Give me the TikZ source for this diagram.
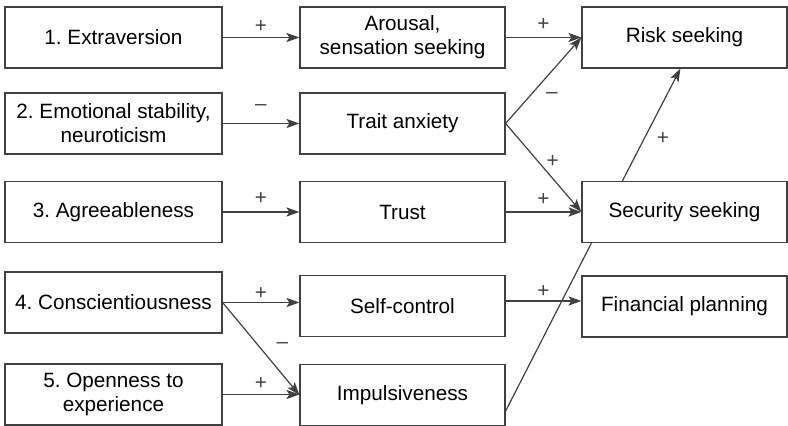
\documentclass[tikz,border=0pt]{standalone}
\usepackage{fontspec}
\setmainfont{Liberation Sans}
\frenchspacing
\usetikzlibrary{arrows.meta,calc}
\tikzset{
  box/.style={draw=black!75,line width=0.6pt,minimum height=30.5pt,inner sep=2pt,
    align=center,font=\fontsize{10.35}{12}\selectfont},
  trait/.style={box,minimum width=108.5pt},
  mid/.style={box,minimum width=102.5pt},
  outc/.style={box,minimum width=102.5pt},
  link/.style={line width=0.6pt,black!75,-{Stealth[length=6.5pt,width=4.6pt,inset=1.5pt]}},
  bare/.style={line width=0.6pt,black!75},
  sgn/.style={font=\fontsize{10.35}{12}\selectfont,inner sep=1pt},
}

\begin{document}
\begin{tikzpicture}[x=0.5pt,y=-0.5pt]
    \useasboundingbox (0,0) rectangle (788,426);
    % personality traits
    \node[trait] (t1) at (113.5,37.5) {1. Extraversion};
    \node[trait] (t2) at (113.5,123.5) {2. Emotional stability,\\neuroticism};
    \node[trait] (t3) at (113.5,212) {3. Agreeableness};
    \node[trait] (t4) at (113.5,302.5) {4. Conscientiousness};
    \node[trait] (t5) at (113.5,394.5) {5. Openness to\\experience};
    % intermediate characteristics
    \node[mid] (m1) at (402.5,37.5) {Arousal,\\sensation seeking};
    \node[mid] (m2) at (402.5,123.5) {Trait anxiety};
    \node[mid] (m3) at (402.5,212) {Trust};
    \node[mid] (m4) at (402.5,306) {Self-control};
    \node[mid] (m5) at (402.5,395) {Impulsiveness};
    % financial behaviour
    \node[outc] (o1) at (684.5,37.5) {Risk seeking};
    \node[outc] (o2) at (684.5,212) {Security seeking};
    \node[outc] (o3) at (684.5,306.5) {Financial planning};
    % traits -> characteristics
    \draw[link] (t1.east) -- (t1.east -| m1.west) node[sgn,midway,above=1.35pt] {+};
    \draw[link] (t2.east) -- (t2.east -| m2.west) node[sgn,midway,above=5.15pt] {--};
    \draw[link] (t3.east) -- (t3.east -| m3.west) node[sgn,midway,above=2.35pt] {+};
    \draw[link] (t4.east) -- (t4.east -| m4.west) node[sgn,midway,above=0pt] {+};
    \draw[link] (t4.east) -- (m5.west) node[sgn,pos=0.47,right=7.7pt] {--};
    \draw[link] (t5.east) -- (t5.east -| m5.west) node[sgn,midway,above=1.35pt] {+};
    % characteristics -> behaviour
    \draw[link] (m1.east) -- (o1.west) node[sgn,midway,above=2.35pt] {+};
    \draw[link] (m2.east) -- (o1.west) node[sgn,pos=0.61,below=9.65pt] {--};
    \draw[link] (m2.east) -- (o2.west) node[sgn,pos=0.62,above=4.35pt] {+};
    \draw[link] (m3.east) -- (o2.west) node[sgn,midway,above=1.85pt] {+};
    \draw[link] ([yshift=2.5pt]m4.east) -- ([yshift=2.5pt]m4.east -| o3.west)
      node[sgn,midway,above=0.35pt] {+};
    \draw[bare] ($(m5.south east)+(0,-15)$) -- ($(o2.south west)+(10,0)$);
    \draw[link] ($(o2.north west)+(41,0)$) -- ($(o1.south west)+(99,0)$)
      node[sgn,pos=0.375,right=5pt] {+};
\end{tikzpicture}
\end{document}
